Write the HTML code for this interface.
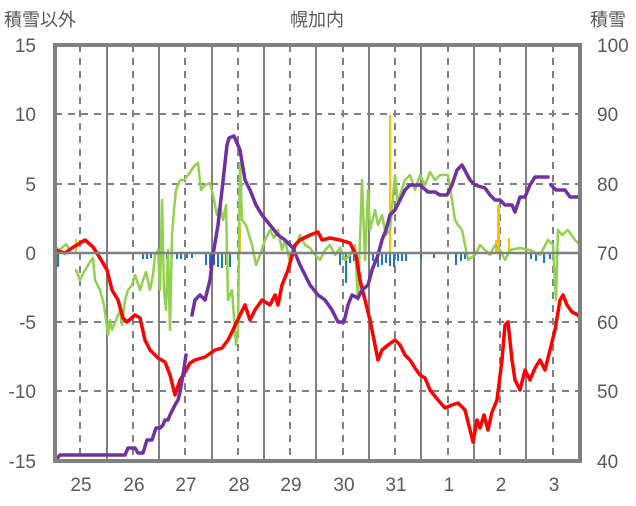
<!DOCTYPE html>
<html><head><meta charset="utf-8"><style>
body{margin:0;background:#fff;width:636px;height:501px;overflow:hidden}
svg text{font-family:"Liberation Sans","Noto Sans CJK JP",sans-serif;fill:#595959}
</style></head><body>
<svg width="636" height="501" viewBox="0 0 636 501" xmlns="http://www.w3.org/2000/svg">
<rect width="636" height="501" fill="#fff"/>
<g stroke="#808080" stroke-width="2">
<g stroke-dasharray="7,6">
<line x1="55" y1="114" x2="580" y2="114"/><line x1="55" y1="184" x2="580" y2="184"/>
<line x1="55" y1="322" x2="580" y2="322"/><line x1="55" y1="391" x2="580" y2="391"/>
<line x1="80" y1="45" x2="80" y2="461"/><line x1="133" y1="45" x2="133" y2="461"/>
<line x1="185" y1="45" x2="185" y2="461"/><line x1="238" y1="45" x2="238" y2="461"/>
<line x1="290" y1="45" x2="290" y2="461"/><line x1="343" y1="45" x2="343" y2="461"/>
<line x1="395" y1="45" x2="395" y2="461"/><line x1="448" y1="45" x2="448" y2="461"/>
<line x1="500" y1="45" x2="500" y2="461"/><line x1="553" y1="45" x2="553" y2="461"/>
</g>
<line x1="107" y1="45" x2="107" y2="461"/><line x1="159" y1="45" x2="159" y2="461"/>
<line x1="212" y1="45" x2="212" y2="461"/><line x1="264" y1="45" x2="264" y2="461"/>
<line x1="316" y1="45" x2="316" y2="461"/><line x1="369" y1="45" x2="369" y2="461"/>
<line x1="421" y1="45" x2="421" y2="461"/><line x1="474" y1="45" x2="474" y2="461"/>
<line x1="526" y1="45" x2="526" y2="461"/>
</g>
<g fill="#1f77c4">
<rect x="57" y="253" width="2" height="14"/><rect x="142" y="253" width="2" height="6"/><rect x="146" y="253" width="2" height="6"/><rect x="150" y="253" width="2" height="5"/><rect x="154" y="253" width="2" height="6"/>
<rect x="166" y="253" width="2" height="6"/><rect x="171" y="253" width="2" height="5"/><rect x="176" y="253" width="2" height="6"/><rect x="180" y="253" width="2" height="6"/><rect x="186" y="253" width="2" height="5"/><rect x="191" y="253" width="2" height="5"/>
<rect x="205" y="253" width="2" height="12"/><rect x="209" y="253" width="2" height="15"/><rect x="213" y="253" width="2" height="12"/><rect x="217" y="253" width="2" height="14"/><rect x="221" y="253" width="2" height="15"/><rect x="225" y="253" width="2" height="12"/><rect x="229" y="253" width="2" height="14"/>
<rect x="339" y="253" width="2" height="12"/><rect x="345" y="253" width="2" height="30"/><rect x="349" y="253" width="2" height="10"/><rect x="353" y="253" width="2" height="8"/>
<rect x="372" y="253" width="2" height="8"/><rect x="377" y="253" width="2" height="14"/><rect x="381" y="253" width="2" height="12"/><rect x="385" y="253" width="2" height="10"/><rect x="389" y="253" width="2" height="13"/><rect x="393" y="253" width="2" height="14"/><rect x="397" y="253" width="2" height="8"/><rect x="401" y="253" width="2" height="8"/><rect x="405" y="253" width="2" height="8"/>
<rect x="420" y="253" width="2" height="6"/><rect x="433" y="253" width="2" height="5"/>
<rect x="455" y="253" width="2" height="12"/><rect x="460" y="253" width="2" height="8"/><rect x="464" y="253" width="2" height="6"/>
<rect x="530" y="253" width="2" height="6"/><rect x="535" y="253" width="2" height="8"/><rect x="543" y="253" width="2" height="10"/><rect x="549" y="253" width="2" height="6"/>
</g>
<g fill="#ffc000">
<rect x="75" y="239" width="2" height="14"/><rect x="239" y="225" width="2" height="28"/><rect x="389" y="115" width="2" height="138"/><rect x="495" y="240" width="2" height="13"/><rect x="497" y="205" width="3" height="48"/><rect x="508" y="238" width="2" height="15"/>
</g>
<g fill="none" stroke-linejoin="round" stroke-linecap="round">
<polyline stroke="#92d050" stroke-width="2.5" points="55,245 58,250 62,248 66,244 70,250"/>
<polyline stroke="#92d050" stroke-width="2.5" points="76,270 80,280 85,270 90,262 93,258 95,280 100,290 104,305 108,335 110,320 112,330 116,320 120,310 122,325 125,300 128,290 132,285 135,275 140,290 143,280 146,272 150,290 153,275 155,255 158,250 160,290 162,200 164,290 166,310 168,250 170,330 172,235 174,210 176,190 180,180 184,180 188,175 195,165 198,163 201,190 205,185 210,183 213,195 217,215 220,205 223,220 226,205 228,300 232,290 236,345 238,330 240,163 242,220 246,225 252,245 256,265 260,255 265,240 270,230 274,238 278,230 282,250 285,240 290,262 295,248 300,235 305,245 310,248 315,255 320,260 325,250 330,245 335,255 340,248 345,260 350,255 355,245 358,300 362,180 365,260 368,190 370,230 375,210 378,225 382,215 386,235 390,230 395,175 398,205 400,195 405,180 410,175 415,190 420,175 425,185 430,172 435,180 440,175 448,175 452,200 455,220 458,225 462,230 468,260 475,255 480,245 485,250 490,255 495,245 500,250 505,260 510,250 520,248 530,250 540,255 548,240 553,245 556,300 558,230 562,235 568,230 575,240 580,245"/>
<polyline stroke="#ff0000" stroke-width="3.5" points="55,250 65,253 72,248 85,240 93,247 100,258 107,270 112,290 118,300 123,318 127,322 135,315 140,318 145,340 150,350 158,358 165,362 170,375 175,395 180,380 185,372 190,363 195,360 205,357 215,350 222,348 228,340 233,330 240,315 245,305 250,320 255,310 262,300 270,305 275,295 278,305 282,285 288,270 295,245 300,240 310,235 318,232 322,240 330,238 340,240 350,243 356,255 360,280 365,300 370,320 375,345 378,360 382,350 388,345 395,340 400,345 405,355 410,360 415,368 420,375 425,378 430,390 438,400 445,408 452,405 458,403 465,410 470,430 473,442 477,420 480,428 484,415 488,430 492,412 497,400 502,360 505,325 508,322 512,360 515,380 520,390 525,370 530,380 535,368 540,360 545,370 550,350 555,330 560,300 563,295 567,305 572,312 578,315 580,318"/>
<polyline stroke="#7030a0" stroke-width="3.5" points="55,461 60,455 125,455 128,448 135,448 138,453 143,453 147,440 152,440 156,428 160,428 163,425 165,420 168,420 170,415 175,405 178,400 180,392 183,375 186,355"/>
<polyline stroke="#7030a0" stroke-width="3.5" points="192,315 195,300 200,295 205,300 210,280 213,255 218,225 222,190 227,145 229,138 234,136 240,150 245,180 250,190 256,205 262,215 270,225 278,235 285,240 293,248 300,265 305,275 310,285 318,295 325,300 332,310 338,322 344,322 348,305 352,295 358,298 362,290 368,285 372,270 378,255 382,240 386,230 390,215 395,210 400,200 405,190 410,185 420,185 428,192 435,192 440,195 447,195 452,185 457,170 462,165 470,180 475,185 485,188 490,195 495,200 500,200 505,205 512,205 515,212 520,197 525,197 530,185 535,177 548,177"/>
<polyline stroke="#7030a0" stroke-width="3.5" points="551,185 556,190 565,190 570,197 580,197"/>
</g>
<line x1="55" y1="253" x2="580" y2="253" stroke="#808080" stroke-width="2.5"/>
<rect x="55" y="45" width="525" height="416" fill="none" stroke="#808080" stroke-width="4"/>
<g font-size="19" text-anchor="end">
<text x="36" y="52">15</text><text x="36" y="121">10</text><text x="36" y="191">5</text><text x="36" y="260">0</text><text x="36" y="329">-5</text><text x="36" y="398">-10</text><text x="36" y="468">-15</text>
</g>
<g font-size="19" text-anchor="start">
<text x="597" y="52">100</text><text x="597" y="121">90</text><text x="597" y="191">80</text><text x="597" y="260">70</text><text x="597" y="329">60</text><text x="597" y="398">50</text><text x="597" y="468">40</text>
</g>
<g font-size="19" text-anchor="middle">
<text x="81" y="491">25</text><text x="134" y="491">26</text><text x="186" y="491">27</text><text x="239" y="491">28</text><text x="291" y="491">29</text><text x="344" y="491">30</text><text x="396" y="491">31</text><text x="449" y="491">1</text><text x="501" y="491">2</text><text x="554" y="491">3</text>
</g>
<text x="4" y="26" font-size="18">積雪以外</text>
<text x="317" y="26" font-size="18" text-anchor="middle">幌加内</text>
<text x="590" y="26" font-size="18">積雪</text>
</svg>
</body></html>
